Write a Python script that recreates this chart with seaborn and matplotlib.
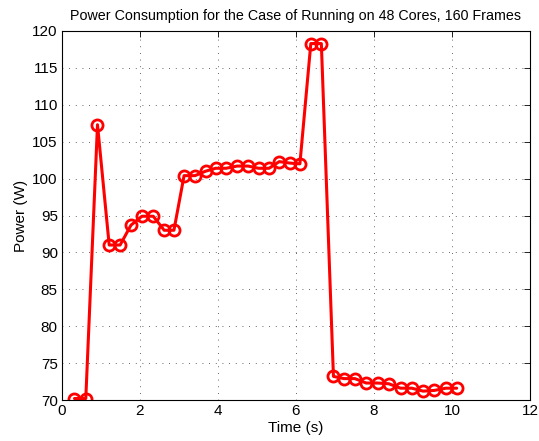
import matplotlib
matplotlib.use("Agg")
import matplotlib.pyplot as plt
import seaborn as sns
import pandas as pd

time_s = [0.32, 0.61, 0.91, 1.21, 1.49, 1.77, 2.05, 2.34, 2.62, 2.87,
          3.13, 3.41, 3.68, 3.94, 4.21, 4.49, 4.77, 5.04, 5.31, 5.57,
          5.85, 6.10, 6.38, 6.65, 6.96, 7.23, 7.51, 7.80, 8.09, 8.38,
          8.68, 8.97, 9.26, 9.55, 9.84, 10.12]
power_w = [70.2, 70.2, 107.3, 91.0, 91.0, 93.7, 94.9, 94.9, 93.0, 93.0,
           100.4, 100.4, 101.0, 101.4, 101.4, 101.7, 101.7, 101.4, 101.4, 102.3,
           102.1, 102.0, 118.3, 118.3, 73.2, 72.9, 72.9, 72.3, 72.3, 72.2,
           71.6, 71.6, 71.2, 71.3, 71.6, 71.6]
x_ticks = [0, 2, 4, 6, 8, 10, 12]
y_ticks = [70, 75, 80, 85, 90, 95, 100, 105, 110, 115, 120]

df = pd.DataFrame({"Time (s)": time_s, "Power (W)": power_w})

sns.set_style("white")
plt.rcParams["font.family"] = ["Liberation Sans", "DejaVu Sans"]
plt.rcParams["text.color"] = "black"
plt.rcParams["axes.labelcolor"] = "black"

fig = plt.figure(figsize=(5.39, 4.41), dpi=100)
ax = fig.add_axes([62/539, 41/441, 468/539, 369/441])

sns.lineplot(data=df, x="Time (s)", y="Power (W)", ax=ax, color="red",
             linewidth=2.2, marker="o", markersize=8, markerfacecolor="none",
             markeredgecolor="red", markeredgewidth=2)

ax.set_xlim(0, 12)
ax.set_ylim(70, 120)
ax.set_xticks(x_ticks)
ax.set_yticks(y_ticks)
ax.tick_params(direction="in", top=True, right=True, labelsize=11, length=4, width=0.6,
               colors="black", pad=3)
ax.grid(True, linestyle=(0, (1, 7)), color="#333333", linewidth=0.6)
for s in ax.spines.values():
    s.set_color("black")
    s.set_linewidth(0.8)
ax.set_xlabel("Time (s)", fontsize=11, labelpad=2)
ax.set_ylabel("Power (W)", fontsize=11, labelpad=3)
ax.set_title("Power Consumption for the Case of Running on 48 Cores, 160 Frames",
             fontsize=10.3, pad=8)

fig.savefig("out.png", dpi=100)
